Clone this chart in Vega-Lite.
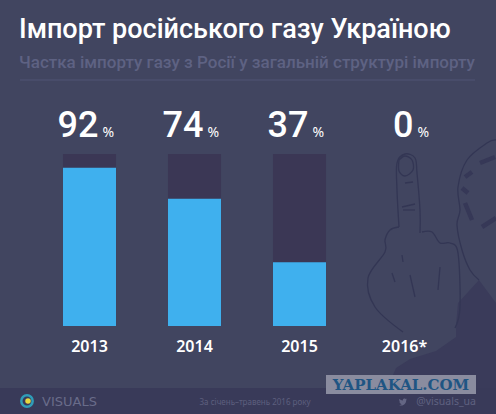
{
  "$schema": "https://vega.github.io/schema/vega-lite/v6.json",
  "width": 496,
  "height": 172,
  "autosize": "none",
  "padding": {"left": 0, "top": 154, "right": 0, "bottom": 88},
  "background": "#414560",
  "config": {"view": {"stroke": null}},
  "title": {
    "text": "Імпорт російського газу Україною",
    "subtitle": "Частка імпорту газу з Росії у загальній структурі імпорту",
    "anchor": "start",
    "frame": "group",
    "dx": 19,
    "offset": 8,
    "font": "Roboto",
    "fontSize": 27,
    "fontWeight": 500,
    "color": "#ffffff",
    "subtitleFont": "Roboto",
    "subtitleFontSize": 17,
    "subtitleFontWeight": 500,
    "subtitleColor": "#5e6283",
    "subtitlePadding": 11
  },
  "datasets": {
    "imports": [
      {"year": "2013", "pct": 92},
      {"year": "2014", "pct": 74},
      {"year": "2015", "pct": 37},
      {"year": "2016*", "pct": 0}
    ],
    "shoulder": [
      {"x": 393, "y": 375, "y2": 388},
      {"x": 396, "y": 368, "y2": 388},
      {"x": 410, "y": 359, "y2": 388},
      {"x": 436, "y": 351, "y2": 388},
      {"x": 456, "y": 337, "y2": 388},
      {"x": 456, "y": 325, "y2": 388},
      {"x": 458, "y": 303, "y2": 388},
      {"x": 479, "y": 280, "y2": 388},
      {"x": 496, "y": 303, "y2": 388}
    ],
    "thin": [
      {"g": "finger", "o": 1, "x": 399, "y": 227},
      {"g": "finger", "o": 2, "x": 397, "y": 190},
      {"g": "finger", "o": 3, "x": 397, "y": 163},
      {"g": "finger", "o": 4, "x": 405, "y": 154},
      {"g": "finger", "o": 5, "x": 415, "y": 158},
      {"g": "finger", "o": 6, "x": 417, "y": 173},
      {"g": "finger", "o": 7, "x": 420, "y": 210},
      {"g": "finger", "o": 8, "x": 420, "y": 233},
      {"g": "nail", "o": 1, "x": 399, "y": 160},
      {"g": "nail", "o": 2, "x": 405, "y": 156},
      {"g": "nail", "o": 3, "x": 412, "y": 160},
      {"g": "nail", "o": 4, "x": 413, "y": 170},
      {"g": "nail", "o": 5, "x": 405, "y": 176},
      {"g": "nail", "o": 6, "x": 399, "y": 171},
      {"g": "nail", "o": 7, "x": 399, "y": 160},
      {"g": "left", "o": 1, "x": 399, "y": 227},
      {"g": "left", "o": 2, "x": 390, "y": 230},
      {"g": "left", "o": 3, "x": 385, "y": 240},
      {"g": "left", "o": 4, "x": 385, "y": 252},
      {"g": "left", "o": 5, "x": 368, "y": 278},
      {"g": "left", "o": 6, "x": 375, "y": 307},
      {"g": "left", "o": 7, "x": 403, "y": 332},
      {"g": "right", "o": 1, "x": 422, "y": 232},
      {"g": "right", "o": 2, "x": 432, "y": 232},
      {"g": "right", "o": 3, "x": 440, "y": 243},
      {"g": "right", "o": 4, "x": 450, "y": 243},
      {"g": "right", "o": 5, "x": 458, "y": 253},
      {"g": "right", "o": 6, "x": 460, "y": 307},
      {"g": "right", "o": 7, "x": 455, "y": 328},
      {"g": "w1", "o": 1, "x": 410, "y": 275},
      {"g": "w1", "o": 2, "x": 415, "y": 297},
      {"g": "w2", "o": 1, "x": 440, "y": 267},
      {"g": "w2", "o": 2, "x": 438, "y": 290},
      {"g": "w3", "o": 1, "x": 392, "y": 273},
      {"g": "w3", "o": 2, "x": 395, "y": 282},
      {"g": "w4", "o": 1, "x": 402, "y": 255},
      {"g": "w4", "o": 2, "x": 403, "y": 262},
      {"g": "c1", "o": 1, "x": 402, "y": 207},
      {"g": "c1", "o": 2, "x": 415, "y": 204},
      {"g": "c2", "o": 1, "x": 403, "y": 210},
      {"g": "c2", "o": 2, "x": 415, "y": 210},
      {"g": "c3", "o": 1, "x": 405, "y": 183},
      {"g": "c3", "o": 2, "x": 413, "y": 182},
      {"g": "head", "o": 1, "x": 496, "y": 140},
      {"g": "head", "o": 2, "x": 487, "y": 143},
      {"g": "head", "o": 3, "x": 467, "y": 160},
      {"g": "head", "o": 4, "x": 458, "y": 187},
      {"g": "head", "o": 5, "x": 460, "y": 210},
      {"g": "head", "o": 6, "x": 457, "y": 225},
      {"g": "head", "o": 7, "x": 462, "y": 250},
      {"g": "head", "o": 8, "x": 470, "y": 270},
      {"g": "head", "o": 9, "x": 479, "y": 280}
    ],
    "hair": [
      {"g": "h1", "o": 1, "x": 465, "y": 177},
      {"g": "h1", "o": 2, "x": 472, "y": 172},
      {"g": "h2", "o": 1, "x": 462, "y": 188},
      {"g": "h2", "o": 2, "x": 468, "y": 193},
      {"g": "h3", "o": 1, "x": 465, "y": 203},
      {"g": "h3", "o": 2, "x": 472, "y": 220},
      {"g": "h4", "o": 1, "x": 480, "y": 163},
      {"g": "h4", "o": 2, "x": 495, "y": 157},
      {"g": "h5", "o": 1, "x": 482, "y": 227},
      {"g": "h5", "o": 2, "x": 496, "y": 218}
    ]
  },
  "layer": [
    {
      "layer": [
        {
          "data": {"name": "shoulder"},
          "mark": {"type": "area", "color": "#3a3b5a"},
          "encoding": {
            "x": {"field": "x", "type": "quantitative", "scale": {"domain": [0, 496], "nice": false, "zero": false}, "axis": null},
            "y": {"field": "y", "type": "quantitative", "scale": {"domain": [326, 154], "nice": false, "zero": false}, "axis": null},
            "y2": {"field": "y2"}
          }
        },
        {
          "data": {"name": "thin"},
          "mark": {"type": "line", "color": "#333654", "strokeWidth": 1.3, "interpolate": "cardinal"},
          "encoding": {
            "x": {"field": "x", "type": "quantitative", "axis": null},
            "y": {"field": "y", "type": "quantitative", "axis": null},
            "detail": {"field": "g"},
            "order": {"field": "o"}
          }
        },
        {
          "data": {"name": "hair"},
          "mark": {"type": "line", "color": "#363857", "strokeWidth": 4.5},
          "encoding": {
            "x": {"field": "x", "type": "quantitative", "axis": null},
            "y": {"field": "y", "type": "quantitative", "axis": null},
            "detail": {"field": "g"},
            "order": {"field": "o"}
          }
        },
        {
          "data": {"values": [{"part": "footer"}]},
          "mark": {"type": "rect", "color": "#393a59"},
          "encoding": {
            "x": {"datum": 0, "type": "quantitative", "axis": null},
            "x2": {"datum": 496},
            "y": {"datum": 388, "type": "quantitative", "axis": null},
            "y2": {"datum": 414}
          }
        },
        {
          "data": {"values": [{"part": "divider"}]},
          "mark": {"type": "rule", "color": "#515574", "strokeWidth": 1},
          "encoding": {
            "x": {"datum": 20, "type": "quantitative", "axis": null},
            "x2": {"datum": 475},
            "y": {"datum": 80, "type": "quantitative", "axis": null}
          }
        },
        {
          "data": {"values": [{"part": "watermark"}]},
          "mark": {"type": "rect", "color": "#8a8c9f"},
          "encoding": {
            "x": {"datum": 326, "type": "quantitative", "axis": null},
            "x2": {"datum": 476},
            "y": {"datum": 375, "type": "quantitative", "axis": null},
            "y2": {"datum": 394}
          }
        },
        {
          "data": {"values": [{"label": "YAPLAKAL.COM"}]},
          "mark": {"type": "text", "font": "DejaVu Serif", "fontWeight": "bold", "fontSize": 15, "color": "#1f5583", "align": "center", "baseline": "middle"},
          "encoding": {
            "x": {"datum": 401, "type": "quantitative", "axis": null},
            "y": {"datum": 385, "type": "quantitative", "axis": null},
            "text": {"field": "label"}
          }
        },
        {
          "data": {"values": [{"label": "VISUALS"}]},
          "mark": {"type": "text", "font": "DejaVu Sans", "fontSize": 13, "color": "#696c8a", "align": "left", "baseline": "middle"},
          "encoding": {
            "x": {"datum": 42, "type": "quantitative", "axis": null},
            "y": {"datum": 402, "type": "quantitative", "axis": null},
            "text": {"field": "label"}
          }
        },
        {
          "data": {"values": [{"label": "За січень–травень 2016 року"}]},
          "mark": {"type": "text", "font": "Noto Sans", "fontSize": 8, "color": "#5d5f7e", "align": "center", "baseline": "middle"},
          "encoding": {
            "x": {"datum": 255, "type": "quantitative", "axis": null},
            "y": {"datum": 403, "type": "quantitative", "axis": null},
            "text": {"field": "label"}
          }
        },
        {
          "data": {"values": [{"label": "@visuals_ua"}]},
          "mark": {"type": "text", "font": "Noto Sans", "fontSize": 10.5, "color": "#5f6180", "align": "right", "baseline": "middle"},
          "encoding": {
            "x": {"datum": 476, "type": "quantitative", "axis": null},
            "y": {"datum": 402, "type": "quantitative", "axis": null},
            "text": {"field": "label"}
          }
        },
        {
          "data": {"values": [{"part": "bird"}]},
          "mark": {"type": "point", "filled": true, "opacity": 1, "color": "#646684", "size": 60, "shape": "M-1,0.75 C-0.4,1.1 0.7,0.9 0.85,-0.45 L1,-0.7 L0.8,-0.62 L0.92,-0.88 L0.66,-0.75 C0.3,-1.05 -0.1,-0.8 -0.03,-0.4 C-0.4,-0.42 -0.7,-0.6 -0.92,-0.85 C-1.05,-0.55 -0.95,-0.25 -0.75,-0.1 L-0.95,-0.15 C-0.92,0.1 -0.75,0.25 -0.55,0.3 L-0.75,0.32 C-0.65,0.5 -0.5,0.58 -0.3,0.6 C-0.5,0.72 -0.75,0.78 -1,0.75 Z"},
          "encoding": {
            "x": {"datum": 403, "type": "quantitative", "axis": null},
            "y": {"datum": 402, "type": "quantitative", "axis": null}
          }
        },
        {
          "data": {"values": [{"part": "logo ring"}]},
          "mark": {"type": "point", "filled": false, "opacity": 1, "color": "#2f9db8", "strokeWidth": 2.5, "size": 130},
          "encoding": {
            "x": {"datum": 27, "type": "quantitative", "axis": null},
            "y": {"datum": 401, "type": "quantitative", "axis": null}
          }
        },
        {
          "data": {"values": [{"part": "logo dot"}]},
          "mark": {"type": "point", "filled": true, "opacity": 1, "color": "#e6d93f", "size": 30},
          "encoding": {
            "x": {"datum": 28, "type": "quantitative", "axis": null},
            "y": {"datum": 401, "type": "quantitative", "axis": null}
          }
        }
      ]
    },
    {
      "data": {"name": "imports"},
      "encoding": {
        "x": {
          "field": "year",
          "type": "nominal",
          "sort": null,
          "title": null,
          "scale": {"range": [37, 457], "paddingInner": 0.495, "paddingOuter": 0.2475},
          "axis": {
            "domain": false,
            "ticks": false,
            "grid": false,
            "labelAngle": 0,
            "labelFont": "Noto Sans",
            "labelFontSize": 16,
            "labelFontWeight": 600,
            "labelColor": "#ffffff",
            "labelPadding": 12
          }
        }
      },
      "layer": [
        {
          "transform": [{"filter": "datum.pct > 0"}],
          "mark": {"type": "bar", "color": "#3b3755"},
          "encoding": {
            "y": {"datum": 100, "type": "quantitative", "scale": {"domain": [0, 100], "nice": false}, "axis": null},
            "y2": {"datum": 0}
          }
        },
        {
          "mark": {"type": "bar", "color": "#3fb0ee"},
          "encoding": {
            "y": {"field": "pct", "type": "quantitative", "axis": null}
          }
        },
        {
          "mark": {"type": "text", "font": "Roboto", "fontWeight": 500, "fontSize": 36, "color": "#ffffff", "align": "right", "baseline": "alphabetic", "dx": 9, "dy": -17},
          "encoding": {
            "y": {"datum": 100, "type": "quantitative", "axis": null},
            "text": {"field": "pct", "type": "quantitative"}
          }
        },
        {
          "mark": {"type": "text", "font": "Noto Sans", "fontSize": 14, "color": "#ffffff", "align": "left", "baseline": "alphabetic", "dx": 13, "dy": -17},
          "encoding": {
            "y": {"datum": 100, "type": "quantitative", "axis": null},
            "text": {"value": "%"}
          }
        }
      ]
    }
  ],
  "resolve": {"scale": {"x": "independent", "y": "independent"}}
}
